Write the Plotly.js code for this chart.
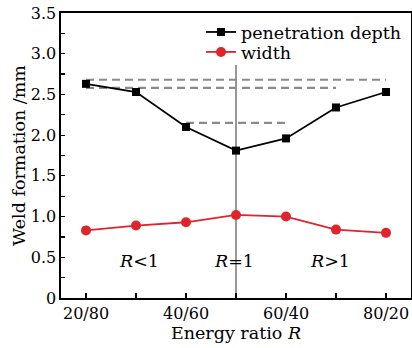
<!DOCTYPE html>
<html><head><meta charset="utf-8">
<script src="https://cdn.plot.ly/plotly-3.0.1.min.js"></script>
<style>html,body{margin:0;padding:0;background:#fff}#c{width:412px;height:348px}</style>
</head><body><div id="c"></div>
<script>
const ratioX = [20, 30, 40, 50, 60, 70, 80];
const tickVals = [20, 40, 60, 80];
const tickLabels = ["20/80", "40/60", "60/40", "80/20"];
const depth = [2.63, 2.53, 2.10, 1.81, 1.96, 2.34, 2.53];
const width = [0.83, 0.89, 0.93, 1.02, 1.00, 0.84, 0.80];
const yTickVals = [0, 0.5, 1.0, 1.5, 2.0, 2.5, 3.0, 3.5];
const yTickLabels = ["0", "0.5", "1.0", "1.5", "2.0", "2.5", "3.0", "3.5"];
// reference guide lines: [x0, x1, y]
const guide1 = [20, 80, 2.68];
const guide2 = [20, 70, 2.58];
const guide3 = [40, 60, 2.15];
const dividerX = 50;
const dividerTop = 2.86;
const regionLabels = ["<i>R</i>&lt;1", "<i>R</i>=1", "<i>R</i>&gt;1"];
const regionX = [30.5, 49.5, 68.8];
const regionY = 0.45;

const F = "DejaVu Serif";
const guides = [guide1, guide2, guide3].map(g => ({
  x: [g[0], g[1]], y: [g[2], g[2]], mode: 'lines', showlegend: false, hoverinfo: 'skip',
  line: {color: '#8a8a8a', width: 2.2, dash: '8px,5px'}
}));
const data = guides.concat([
  {x: [dividerX, dividerX], y: [0, dividerTop], mode: 'lines', showlegend: false,
   line: {color: '#8e8e8e', width: 1.8}},
  {x: ratioX, y: depth, name: 'penetration depth', mode: 'lines+markers', legend: 'legend',
   line: {color: '#000', width: 1.8}, marker: {symbol: 'square', size: 8, color: '#000'}},
  {x: ratioX, y: width, name: 'width', mode: 'lines+markers', legend: 'legend2',
   line: {color: '#e0242c', width: 1.8}, marker: {symbol: 'circle', size: 10, color: '#e0242c'}}
]);
const legBase = {xanchor: 'left', yanchor: 'middle', bgcolor: 'rgba(0,0,0,0)',
                 font: {family: F, size: 17.5}, itemwidth: 30};
const layout = {
  width: 412, height: 348,
  margin: {l: 61, r: 1, t: 13, b: 50},
  paper_bgcolor: '#fff', plot_bgcolor: '#fff',
  font: {family: F, size: 16, color: '#000'},
  showlegend: true,
  legend: Object.assign({x: 0.40, y: 0.933}, legBase),
  legend2: Object.assign({x: 0.40, y: 0.863}, legBase),
  xaxis: {range: [15, 85], tickvals: tickVals, ticktext: tickLabels,
          ticks: 'inside', ticklen: 5, tickwidth: 1.2, tickcolor: '#000',
          minor: {dtick: 10, tick0: 0, ticks: 'inside', ticklen: 5, tickwidth: 1.2, tickcolor: '#000'},
          showline: true, linecolor: '#000', linewidth: 1.6, mirror: true,
          showgrid: false, zeroline: false,
          title: {text: 'Energy ratio <i>R</i>', font: {family: F, size: 17.5}, standoff: 2}},
  yaxis: {range: [0, 3.5], tickvals: yTickVals, ticktext: yTickLabels,
          ticks: 'inside', ticklen: 4, tickwidth: 1.2, tickcolor: '#000',
          minor: {dtick: 0.25, tick0: 0, ticks: 'inside', ticklen: 4, tickwidth: 1.2, tickcolor: '#000'},
          showline: true, linecolor: '#000', linewidth: 1.6, mirror: true,
          showgrid: false, zeroline: false,
          title: {text: 'Weld formation /mm', font: {family: F, size: 17.5}, standoff: 0}},
  annotations: regionLabels.map((t, i) => ({
    x: regionX[i], y: regionY, xref: 'x', yref: 'y', text: t, showarrow: false,
    font: {family: F, size: 17.5, color: '#000'}
  }))
};
Plotly.newPlot('c', data, layout, {displayModeBar: false, staticPlot: true});
</script></body></html>
